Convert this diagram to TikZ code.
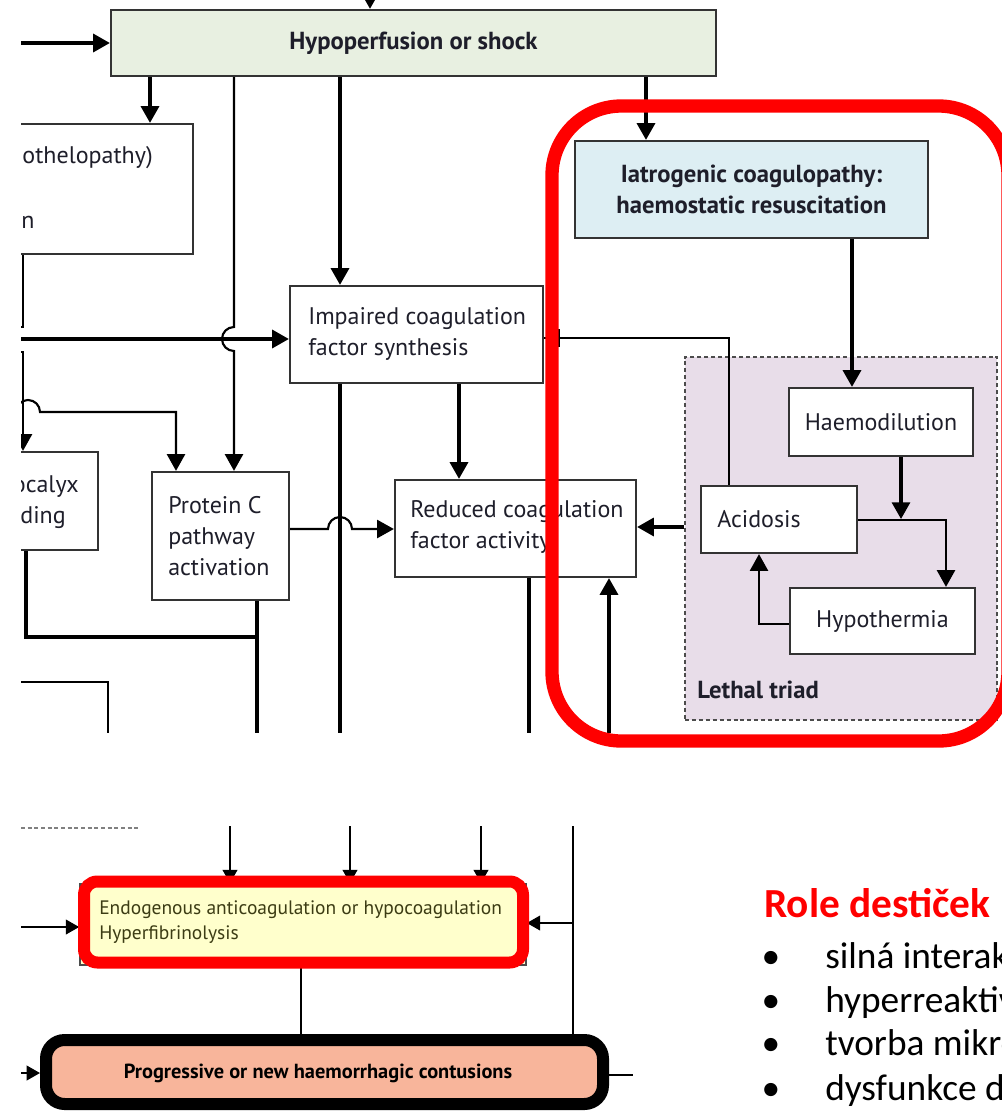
\documentclass[tikz,border=0pt]{standalone}
\usepackage{fontspec}
\setmainfont{PT Sans}
\newfontfamily\calibrifont{Carlito}
\usetikzlibrary{arrows.meta,calc}
\definecolor{txt}{HTML}{1E1E2A}
\definecolor{hypofill}{HTML}{E8F0E1}
\definecolor{iatrofill}{HTML}{DDEEF3}
\definecolor{triadfill}{HTML}{E8DDE9}
\definecolor{endofill}{HTML}{FFFFCC}
\definecolor{progfill}{HTML}{F8B59B}
\definecolor{endotxt}{HTML}{3C3C14}
\newcommand\bx[7]{\node[#6, minimum width={(#4-#2)*0.75pt}, minimum height={(#5-#3)*0.75pt}] (#1) at ({(#2+#4)/2},{(#3+#5)/2}) {#7};}
\begin{document}
\begin{tikzpicture}[x=0.75pt,y=-0.75pt,
  box/.style={draw=black!80, line width=1.7pt, fill=white, inner sep=0pt, text=txt, font=\fontsize{18}{23.3}\selectfont},
  bbox/.style={box, font=\bfseries\fontsize{18.5}{23.3}\selectfont, align=center},
  lbl/.style={inner sep=0pt, text=txt, font=\fontsize{18}{23.3}\selectfont, align=left},
  triadst/.style={draw=black!70, dash pattern=on 3pt off 2.2pt, line width=1.2pt, fill=triadfill, inner sep=0pt},
  conn/.style={line width=2.3pt, black},
  thinconn/.style={line width=1.6pt, black},
  arr/.style={-{Triangle[length=12.5pt,width=13.5pt]}},
  lconn/.style={line width=1.4pt, black},
  larr/.style={-{Triangle[length=10pt,width=11pt]}},
  redbox/.style={draw=red, line width=10pt},
]
\useasboundingbox (0,0) rectangle (1002,1111);
\begin{scope}
\clip (0,0) rectangle (1002,1111);
% ================= upper panel =================
\begin{scope}
\clip (21,0) rectangle (1002,732);
\bx{triad}{685}{357}{997}{720}{triadst}{}
\node[lbl, font=\bfseries\fontsize{18.5}{23.3}\selectfont, anchor=west] (triadt) at (697,690) {Lethal triad};

\bx{hypo}{111}{10}{716}{76}{bbox, fill=hypofill}{Hypoperfusion or shock}
\bx{endo}{-60}{124}{193}{254}{box}{}
\node[lbl, anchor=east] (endot1) at (153,158) {othelopathy)};
\node[lbl, anchor=west] (endot2) at (21,222) {n};
\bx{glyco}{-60}{452}{98}{550}{box}{}
\node[lbl, anchor=east] (glycot1) at (79,487) {ocalyx};
\node[lbl, anchor=east] (glycot2) at (66,518) {ding};
\bx{protein}{152}{472}{289}{600}{box}{}
\node[lbl, anchor=west] (proteint) at (168,536) {Protein C\\pathway\\activation};
\bx{impaired}{290}{286}{543}{383}{box}{}
\node[lbl, anchor=west] (impairedt) at (308,334) {Impaired coagulation\\factor synthesis};
\bx{reduced}{395}{480}{636}{577}{box}{}
\node[lbl, anchor=west] (reducedt) at (410,527) {Reduced coagulation\\factor activity};
\bx{iatro}{575}{141}{928}{238}{bbox, fill=iatrofill}{Iatrogenic coagulopathy:\\haemostatic resuscitation}
\bx{haemo}{789}{388}{973}{456}{box}{Haemodilution}
\bx{acid}{701}{486}{857}{553}{box}{}
\node[lbl, anchor=west] (acidt) at (717,519) {Acidosis};
\bx{hypoth}{790}{588}{975}{654}{box}{Hypothermia}

\coordinate (topin) at (370,-40);
\draw[conn,arr] (topin) -- (hypo.north -| topin);
\draw[conn,arr] (0,43) -- (hypo.west |- 0,43);
\draw[conn,arr] (hypo.south -| 150,0) -- (endo.north -| 150,0);
\draw[thinconn,arr] (hypo.south -| 234,0) -- (234,327) arc (270:90:12) -- (protein.north -| 234,0);
\draw[conn,arr] (hypo.south -| 340,0) -- (impaired.north -| 340,0);
\draw[conn,arr] (hypo.south -| 646,0) -- (iatro.north -| 646,0);
\draw[thinconn] (endo.south -| 23,0) -- (23,327) -- (0,327);
\draw[conn,arr] (0,339) -- (impaired.west |- 0,339);
\draw[thinconn,arr] (0,352) -- (23,352) -- (glyco.north -| 23,0);
\draw[thinconn,arr] (0,412) -- (16,412) arc (180:360:12) -- (176,412) -- (protein.north -| 176,0);
\draw[thinconn,arr] (protein.east |- 0,529) -- (328,529) arc (180:360:12) -- (reduced.west |- 0,529);
\draw[conn] (glyco.south -| 26,0) -- (26,637) -- (257,637);
\draw[conn] (protein.south -| 257,0) -- (257,740);
\draw[conn] (impaired.south -| 340,0) -- (340,740);
\draw[conn,arr] (impaired.south -| 459,0) -- (reduced.north -| 459,0);
\draw[conn] (reduced.south -| 529,0) -- (529,740);
\draw[conn,arr] (609,740) -- (reduced.south -| 609,0);
\draw[conn,arr] (triad.west |- 0,527) -- (reduced.east |- 0,527);
\draw[thinconn] (acid.north -| 729,0) -- (729,338) -- (impaired.east |- 0,338);
\draw[thinconn] (559,329) -- (559,347);
\draw[conn,arr] (iatro.south -| 852,0) -- (haemo.north -| 852,0);
\draw[conn,arr] (haemo.south -| 901,0) -- (901,519);
\draw[thinconn,arr] (acid.east |- 0,520) -- (946,520) -- (hypoth.north -| 946,0);
\draw[thinconn,arr] (hypoth.west |- 0,624) -- (759,624) -- (acid.south -| 759,0);
\draw[thinconn] (0,682) -- (108,682) -- (108,740);
\end{scope}
\draw[redbox, rounded corners=52pt] (552,106) rectangle (1008,741);

% ================= lower panel =================
\begin{scope}
\clip (21,826) rectangle (1002,1111);
\draw[gray, line width=0.8pt, dash pattern=on 3pt off 2pt] (21,828) -- (140,828);
\bx{endog}{80}{884}{526}{965}{draw=black!70, line width=1.2pt, fill=endofill, inner sep=0pt}{}
\node[inner sep=0pt, text=endotxt, font=\fontsize{14.6}{18.75}\selectfont, align=left, anchor=west] (endogt) at (99,922.5) {Endogenous anticoagulation or hypocoagulation\\Hyperfibrinolysis};
\bx{prog}{46}{1040}{603}{1104}{draw=black, line width=9pt, fill=progfill, rounded corners=14pt, inner sep=0pt}{}
\node[inner sep=0pt, text=black, font=\bfseries\fontsize{15.3}{18}\selectfont] (progt) at (318,1073) {Progressive or new haemorrhagic contusions};
\draw[lconn,larr] (230,820) -- (endog.north -| 230,0);
\draw[lconn,larr] (350,820) -- (endog.north -| 350,0);
\draw[lconn,larr] (481,820) -- (endog.north -| 481,0);
\draw[lconn] (573,820) -- (prog.north -| 573,0);
\draw[lconn,larr] (573,923) -- (endog.east |- 0,923);
\draw[lconn,larr] (0,927) -- (endog.west |- 0,927);
\draw[lconn] (endog.south -| 301,0) -- (prog.north -| 301,0);
\draw[lconn,larr] (0,1073) -- (prog.west |- 0,1073);
\draw[lconn] (prog.east |- 0,1075) -- (633,1075);
\draw[red, line width=9pt, rounded corners=10pt] (84,881.5) rectangle (523,962.5);
\end{scope}

% ================= right text =================
\node[inner sep=0pt, anchor=base west, text=red, font=\calibrifont\bfseries\fontsize{31}{36}\selectfont] (role) at (764,917) {Role destiček};
\foreach \y/\t [count=\i] in {968/silná interak, 1012/hyperreaktiv, 1055/tvorba mikro, 1100/dysfunkce d}{
  \node[inner sep=0pt, anchor=base, font=\calibrifont\fontsize{28}{34}\selectfont] (bul\i) at (771,\y) {•};
  \node[inner sep=0pt, anchor=base west, font=\calibrifont\fontsize{28}{34}\selectfont] (item\i) at (825,\y) {\t};
}
\end{scope}
\end{tikzpicture}
\end{document}
